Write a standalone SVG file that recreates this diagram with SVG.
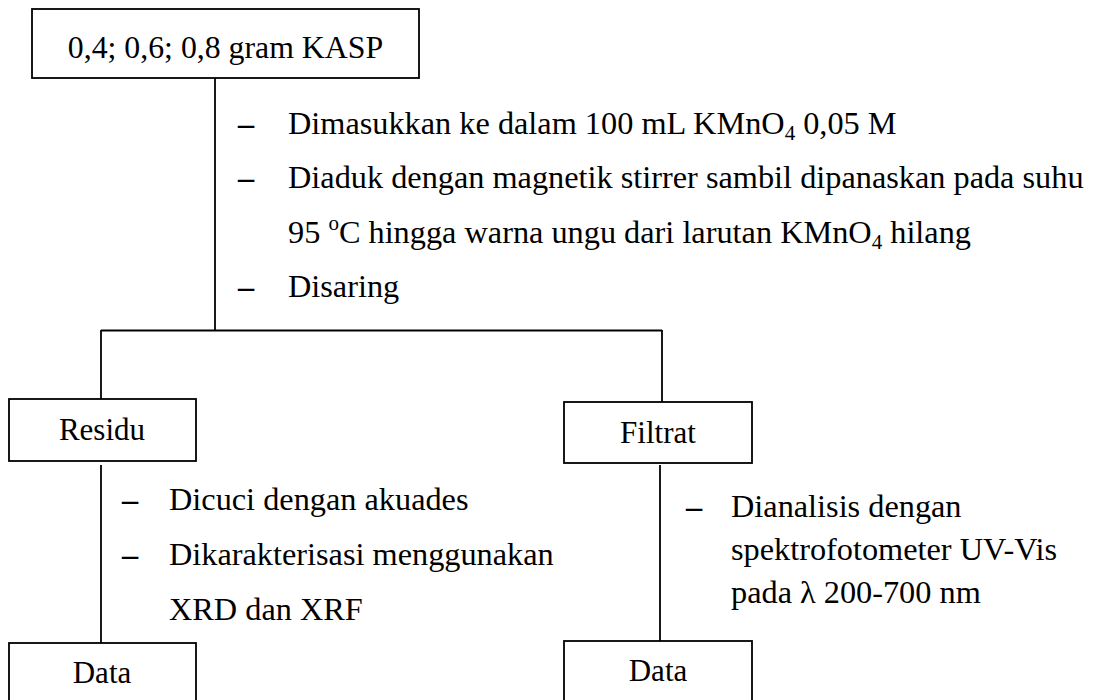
<svg xmlns="http://www.w3.org/2000/svg" width="1095" height="700" viewBox="0 0 1095 700" font-family="'Liberation Serif', 'Times New Roman', Times, serif" font-size="32">
<style>
.box{fill:#fff;stroke:#000;stroke-width:1.8}
.ln{stroke:#000;stroke-width:1.8;fill:none}
.c{text-anchor:middle}
.s{font-size:21px}
.b{font-size:31px}
.d{font-weight:bold}
</style>
<rect width="1095" height="700" fill="#fff"/>
<g id="connectors">
<line class="ln" x1="215" y1="78" x2="215" y2="331"/>
<line class="ln" x1="101" y1="330.5" x2="662" y2="330.5"/>
<line class="ln" x1="101" y1="330" x2="101" y2="399"/>
<line class="ln" x1="662" y1="330" x2="662" y2="402"/>
<line class="ln" x1="101" y1="465" x2="101" y2="643"/>
<line class="ln" x1="660" y1="465" x2="660" y2="641"/>
</g>
<g id="n-kasp">
<rect class="box" x="32" y="9" width="387" height="69"/>
<text class="c" x="225.5" y="58" font-size="31.8">0,4; 0,6; 0,8 gram KASP</text>
</g>
<g id="steps1" font-size="32.3">
<text class="d" x="238" y="134">–</text>
<text x="288" y="134">Dimasukkan ke dalam 100 mL KMnO<tspan class="s" dy="6">4</tspan><tspan dy="-6"> 0,05 M</tspan></text>
<text class="d" x="238" y="188">–</text>
<text x="288" y="188">Diaduk dengan magnetik stirrer sambil dipanaskan pada suhu</text>
<text x="288" y="243">95 <tspan class="s" dy="-13">o</tspan><tspan dy="13">C hingga warna ungu dari larutan KMnO</tspan><tspan class="s" dy="6">4</tspan><tspan dy="-6"> hilang</tspan></text>
<text class="d" x="238" y="297">–</text>
<text x="288" y="297">Disaring</text>
</g>
<g id="n-residu">
<rect class="box" x="9" y="399" width="187" height="62"/>
<text class="c b" x="102" y="440">Residu</text>
</g>
<g id="n-filtrat">
<rect class="box" x="564" y="402" width="188" height="61"/>
<text class="c b" x="658" y="443">Filtrat</text>
</g>
<g id="steps2" font-size="32.3">
<text class="d" x="122" y="510">–</text>
<text x="169" y="510">Dicuci dengan akuades</text>
<text class="d" x="122" y="565">–</text>
<text x="169" y="565">Dikarakterisasi menggunakan</text>
<text x="169" y="620">XRD dan XRF</text>
</g>
<g id="steps3" font-size="32.3">
<text class="d" x="686" y="517">–</text>
<text x="731" y="517">Dianalisis dengan</text>
<text x="731" y="560">spektrofotometer UV-Vis</text>
<text x="731" y="603">pada λ 200-700 nm</text>
</g>
<g id="n-data1">
<rect class="box" x="9" y="643" width="187" height="70"/>
<text class="c b" x="102" y="683">Data</text>
</g>
<g id="n-data2">
<rect class="box" x="564" y="641" width="188" height="70"/>
<text class="c b" x="658" y="681">Data</text>
</g>
</svg>
